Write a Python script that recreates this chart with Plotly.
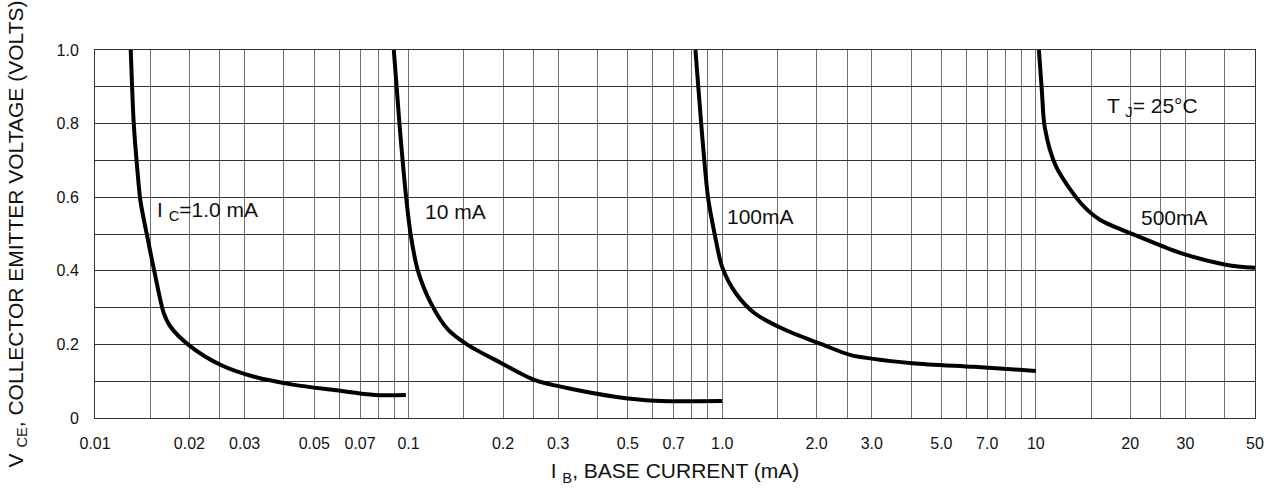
import math
import plotly.graph_objects as go

# ---- data ----
ic1_ib = [0.0130, 0.01313, 0.01329, 0.01362, 0.01396, 0.01470, 0.01545, 0.01657, 0.01741,
          0.0202, 0.0252, 0.0322, 0.0432, 0.058, 0.078, 0.098]
ic1_vce = [1.0, 0.90, 0.80, 0.683, 0.59, 0.49, 0.40, 0.285, 0.248,
           0.194, 0.144, 0.112, 0.090, 0.076, 0.0625, 0.0625]

ic10_ib = [0.0897, 0.0935, 0.0982, 0.1019, 0.1071, 0.1181, 0.1336, 0.1547, 0.1978, 0.2527,
           0.3231, 0.4554, 0.6113, 0.999]
ic10_vce = [1.0, 0.80, 0.60, 0.49, 0.40, 0.31, 0.24, 0.198, 0.149, 0.103,
            0.081, 0.058, 0.047, 0.046]

ic100_ib = [0.8215, 0.857, 0.901, 0.946, 1.0, 1.105, 1.272, 1.593, 2.112, 2.572, 4.036, 6.34, 10.0]
ic100_vce = [1.0, 0.80, 0.60, 0.50, 0.41, 0.339, 0.284, 0.239, 0.198, 0.171, 0.149, 0.139, 0.128]

ic500_ib = [10.23, 10.45, 10.68, 11.61, 13.95, 16.06, 21.29, 29.02, 40.7, 50.0]
ic500_vce = [1.0, 0.891, 0.79, 0.683, 0.583, 0.538, 0.493, 0.448, 0.416, 0.408]

series = [
    (ic1_ib, ic1_vce, "I<sub>C</sub>=1.0 mA"),
    (ic10_ib, ic10_vce, "10 mA"),
    (ic100_ib, ic100_vce, "100mA"),
    (ic500_ib, ic500_vce, "500mA"),
]

# curve labels: (text, Ib value, Vce value)
curve_labels = [
    ("I <sub>C</sub>=1.0 mA", 0.0155, 0.562),
    ("10 mA", 0.111, 0.560),
    ("100mA", 1.02, 0.548),
    ("500mA", 21.4, 0.546),
]
temp_label = ("T <sub>J</sub>= 25°C", 16.6, 0.846)

# x grid / tick positions and labels
x_grid = [0.01, 0.015, 0.02, 0.025, 0.03, 0.04, 0.05, 0.06, 0.07, 0.08, 0.09,
          0.1, 0.15, 0.2, 0.25, 0.3, 0.4, 0.5, 0.6, 0.7, 0.8, 0.9,
          1.0, 1.5, 2.0, 2.5, 3.0, 4.0, 5.0, 6.0, 7.0, 8.0, 9.0,
          10, 15, 20, 25, 30, 40, 50]
x_text = ["0.01", "", "0.02", "", "0.03", "", "0.05", "", "0.07", "", "",
          "0.1", "", "0.2", "", "0.3", "", "0.5", "", "0.7", "", "",
          "1.0", "", "2.0", "", "3.0", "", "5.0", "", "7.0", "", "",
          "10", "", "20", "", "30", "", "50"]

y_grid = [0, 0.1, 0.2, 0.3, 0.4, 0.5, 0.6, 0.7, 0.8, 0.9, 1.0]
y_text = ["0", "", "0.2", "", "0.4", "", "0.6", "", "0.8", "", "1.0"]

FONT = "Liberation Sans, Arial, sans-serif"

fig = go.Figure()
for xs, ys, name in series:
    fig.add_trace(go.Scatter(
        x=xs, y=ys, mode="lines", name=name,
        line=dict(color="black", width=4, shape="spline", smoothing=0.8),
        showlegend=False, hoverinfo="skip",
    ))

for text, x, y in curve_labels + [temp_label]:
    fig.add_annotation(x=math.log10(x), y=y, xref="x", yref="y", text=text, showarrow=False,
                       xanchor="left", yanchor="middle",
                       font=dict(family=FONT, size=21, color="#111"))

fig.update_xaxes(
    type="log", range=[math.log10(0.01), math.log10(50)],
    tickmode="array", tickvals=x_grid, ticktext=x_text,
    showgrid=True, gridcolor="#707070", gridwidth=1,
    showline=True, mirror=True, linecolor="#333", linewidth=1,
    ticks="", ticklabelstandoff=11, zeroline=False,
    tickfont=dict(family=FONT, size=16, color="#111"),
    title=dict(text="I <sub>B</sub>, BASE CURRENT (mA)", standoff=12,
               font=dict(family=FONT, size=21, color="#111")),
)
fig.update_yaxes(
    range=[0, 1.0], tickmode="array", tickvals=y_grid, ticktext=y_text,
    showgrid=True, gridcolor="#333", gridwidth=1,
    showline=True, mirror=True, linecolor="#333", linewidth=1,
    zeroline=True, zerolinecolor="black", zerolinewidth=4,
    ticks="", ticklabelstandoff=12,
    tickfont=dict(family=FONT, size=16, color="#111"),
    title=dict(text="V <sub>CE</sub>, COLLECTOR EMITTER VOLTAGE (VOLTS)", standoff=27,
               font=dict(family=FONT, size=21, color="#111")),
)

fig.update_layout(
    width=1281, height=495,
    margin=dict(l=95, r=26, t=50, b=77, autoexpand=False),
    paper_bgcolor="white", plot_bgcolor="white",
    font=dict(family=FONT, color="#111"),
)

fig.write_html("out.html", config={"displayModeBar": False},
               post_script="document.body.style.margin='0';")
